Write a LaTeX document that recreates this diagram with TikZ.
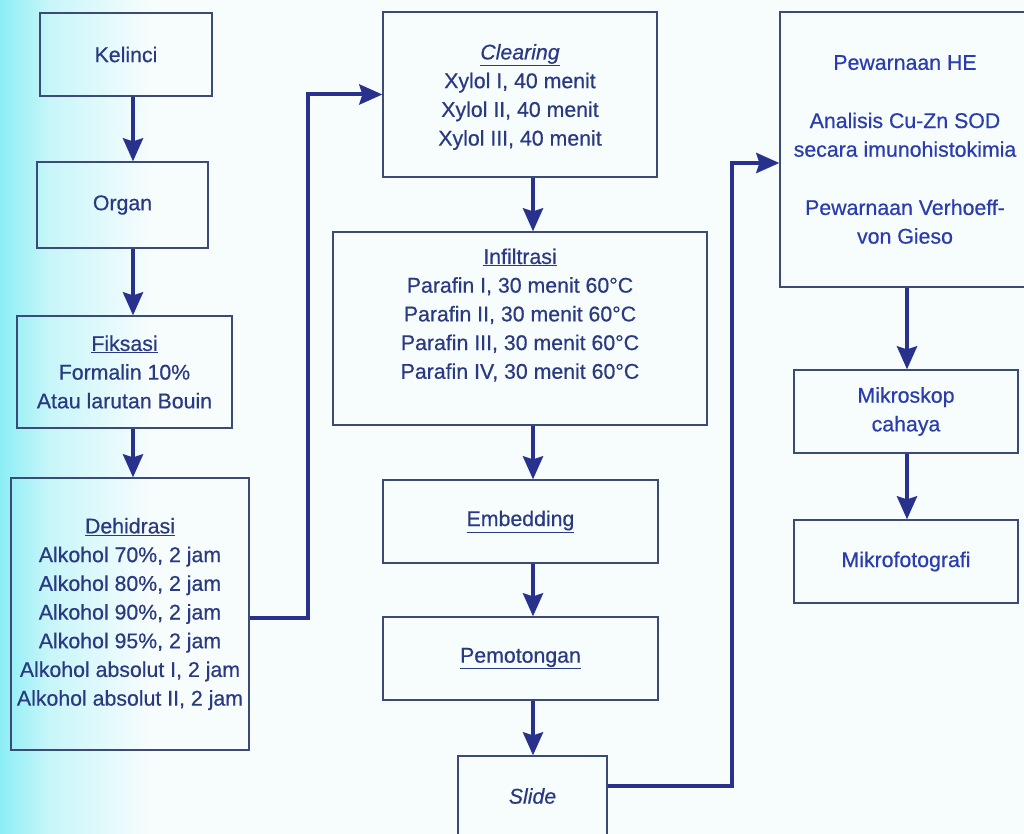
\documentclass[tikz,border=0pt]{standalone}
\usepackage{fontspec}
\setmainfont{Liberation Sans}[FakeBold=0.5,
  ItalicFeatures={FakeBold=0.5}]
\usetikzlibrary{arrows.meta}

\definecolor{pagebg}{HTML}{F7FCFD}
\definecolor{edgecyan}{HTML}{8CEEF5}
\definecolor{midcyan}{HTML}{C8F6F9}
\definecolor{inkblue}{HTML}{2A3A82}
\definecolor{brightink}{HTML}{2A3CAE}
\definecolor{arrowblue}{HTML}{28328C}
\definecolor{framecol}{HTML}{3C4A78}

\tikzset{
  stepfont/.style={align=center, text=inkblue,
    font=\fontsize{21.3}{28.7}\selectfont},
  stepbox/.style={stepfont, draw=framecol, line width=1.3pt, inner sep=0pt},
  rightbox/.style={stepbox, text=brightink},
  flow/.style={draw=arrowblue, line width=4pt,
    -{Stealth[width=20pt,length=23pt,inset=3pt]}},
}

\begin{document}
\begin{tikzpicture}[x=1pt,y=-1pt]
  % page and the cyan tint along the left edge
  \useasboundingbox (0,0) rectangle (1024,834);
  \fill[pagebg] (0,0) rectangle (1024,834);
  \shade[left color=edgecyan, right color=midcyan] (0,0) rectangle (50,834);
  \shade[left color=midcyan, right color=pagebg] (50,0) rectangle (150,834);

  % column guides for the vertical connectors
  \coordinate (colA) at (133,0);
  \coordinate (colB) at (533,0);
  \coordinate (colC) at (907,0);
  \coordinate (jA) at (308,94.5);
  \coordinate (jB) at (732,163);

  % left column
  \node[stepbox, minimum width=172pt, minimum height=83pt] (kel) at (126,54.5) {Kelinci};
  \node[stepbox, minimum width=171pt, minimum height=86pt] (org) at (122.5,205) {Organ};
  \node[stepbox, minimum width=215pt, minimum height=112pt] (fik) at (124.5,372)
    {\underline{Fiksasi}\\Formalin 10\%\\Atau larutan Bouin};
  \node[stepbox, minimum width=238pt, minimum height=272pt] (deh) at (130,614)
    {\underline{Dehidrasi}\\Alkohol 70\%, 2 jam\\Alkohol 80\%, 2 jam\\Alkohol 90\%, 2 jam\\
     Alkohol 95\%, 2 jam\\Alkohol absolut I, 2 jam\\Alkohol absolut II, 2 jam};

  % middle column (the two tall boxes carry their text in separate nodes)
  \node[stepbox, minimum width=274pt, minimum height=165pt] (clr) at (520,94.5) {};
  \node[stepfont, inner sep=0pt] (clrtext) at ([yshift=-2.5pt]clr.center)
    {\underline{\itshape Clearing}\\Xylol I, 40 menit\\Xylol II, 40 menit\\Xylol III, 40 menit};
  \node[stepbox, minimum width=374pt, minimum height=193pt] (inf) at (520,328.5) {};
  \node[stepfont, inner sep=0pt] (inftext) at ([yshift=13.5pt]inf.center)
    {\underline{Infiltrasi}\\Parafin I, 30 menit 60°C\\Parafin II, 30 menit 60°C\\
     Parafin III, 30 menit 60°C\\Parafin IV, 30 menit 60°C};
  \node[stepbox, minimum width=275pt, minimum height=83pt] (emb) at (520.5,521.5)
    {\underline{Embedding}};
  \node[stepbox, minimum width=275pt, minimum height=83pt] (pem) at (520.5,658.5)
    {\underline{Pemotongan}};
  \node[stepbox, minimum width=149pt, minimum height=80pt] (sld) at (532.5,796)
    {\itshape Slide};

  % right column
  \node[rightbox, minimum width=250pt, minimum height=275pt] (pew) at (905,149.5)
    {Pewarnaan HE\\[29.5pt]Analisis Cu-Zn SOD\\secara imunohistokimia\\[29.5pt]
     Pewarnaan Verhoeff-\\von Gieso};
  \node[rightbox, minimum width=224pt, minimum height=83pt] (mik) at (906,411.5)
    {Mikroskop\\cahaya};
  \node[rightbox, minimum width=224pt, minimum height=83pt] (mft) at (906,561.5)
    {Mikrofotografi};

  % connectors
  \draw[flow] (kel.south -| colA) -- (org.north -| colA);
  \draw[flow] (org.south -| colA) -- (fik.north -| colA);
  \draw[flow] (fik.south -| colA) -- (deh.north -| colA);
  \draw[flow] ([yshift=-4pt]deh.east) -| (jA) -- (clr.west);
  \draw[flow] (clr.south -| colB) -- (inf.north -| colB);
  \draw[flow] (inf.south -| colB) -- (emb.north -| colB);
  \draw[flow] (emb.south -| colB) -- (pem.north -| colB);
  \draw[flow] (pem.south -| colB) -- (sld.north -| colB);
  \draw[flow] ([yshift=10pt]sld.east) -| (jB) -- (pew.west |- jB);
  \draw[flow] (pew.south -| colC) -- (mik.north -| colC);
  \draw[flow] (mik.south -| colC) -- (mft.north -| colC);
\end{tikzpicture}
\end{document}
